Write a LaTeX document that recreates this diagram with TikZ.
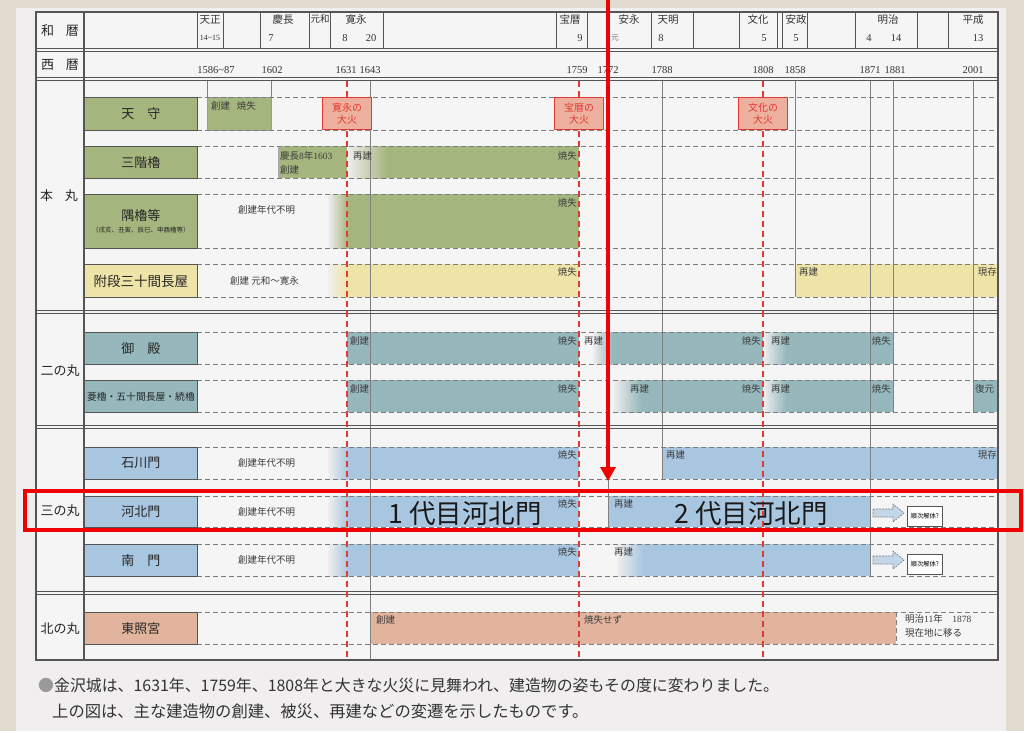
\documentclass[tikz,border=0pt]{standalone}
\usepackage{fontspec}
\setmainfont{Liberation Serif}
\newfontfamily\jp{Noto Sans CJK JP}
\usetikzlibrary{arrows.meta}
\definecolor{bgbeige}{RGB}{226,220,208}
\definecolor{paper}{RGB}{240,238,238}
\definecolor{gridgray}{RGB}{85,85,85}
\definecolor{dashgray}{RGB}{125,125,125}
\definecolor{cgreen}{RGB}{165,181,126}
\definecolor{cyellow}{RGB}{238,228,168}
\definecolor{cteal}{RGB}{150,184,188}
\definecolor{cblue}{RGB}{168,198,224}
\definecolor{csalmon}{RGB}{226,180,158}
\definecolor{firefill}{RGB}{238,176,158}
\definecolor{firered}{RGB}{226,58,50}
\definecolor{txtgray}{RGB}{60,60,60}
\definecolor{markred}{RGB}{240,0,0}
\newcommand\nm[1]{{\rmfamily #1}}
\tikzset{
  frameline/.style={draw=gridgray, line width=1.1pt},
  dbl/.style={draw=gridgray, line width=0.8pt},
  tick/.style={draw=gridgray!75, line width=0.7pt},
  rowdash/.style={draw=dashgray, line width=0.7pt, dash pattern=on 5pt off 3pt},
  firedash/.style={draw=firered, line width=1.3pt, dash pattern=on 6pt off 4pt},
  labelbox/.style={draw=gridgray, line width=0.8pt, inner sep=0pt, anchor=north west, minimum width=113pt, font=\jp\fontsize{13}{15}\selectfont, text=black!85, align=center},
  firebox/.style={draw=firered, fill=firefill, line width=1.1pt, inner sep=0pt, anchor=north west, minimum width=49pt, minimum height=32pt, font=\jp\fontsize{10}{12.5}\selectfont, text=firered, align=center},
  note/.style={font=\jp\fontsize{9.5}{11}\selectfont, text=txtgray, inner sep=0pt},
  era/.style={font=\jp\fontsize{10.5}{12}\selectfont, text=black!80, inner sep=0pt},
  yr/.style={font=\fontsize{10.5}{12}\selectfont, text=black!80, inner sep=0pt},
  sect/.style={font=\jp\fontsize{13}{15}\selectfont, text=black!85, inner sep=0pt},
  big/.style={font=\jp\fontsize{26.5}{30}\selectfont, text=black!90, inner sep=0pt},
  foot/.style={font=\jp\fontsize{16.3}{18}\selectfont, text=black!80, inner sep=0pt, anchor=west},
  markline/.style={draw=markred, line width=3.2pt},
  gobox/.style={draw=gridgray, fill=white, line width=0.6pt, inner sep=0pt, anchor=north west, minimum width=35pt, minimum height=20pt, font=\jp\fontsize{6.3}{7}\selectfont},
  goarrow/.style={draw=dashgray, fill=cblue!70, line width=0.6pt, dash pattern=on 2pt off 1pt},
}
\begin{document}
\begin{tikzpicture}[x=1pt,y=-1pt]
\useasboundingbox (0,0) rectangle (1024,731);
% background
\fill[bgbeige] (0,0) rectangle (1024,731);
\fill[paper] (16,8) rectangle (1006,731);
\fill[paper!60!white] (36,12) rectangle (998,660);

% ===== bars =====
% 天守
\draw[fill=cgreen, draw=gridgray!60, line width=0.6pt] (207,97) rectangle (271,130);
% 三階櫓
\fill[cgreen] (278,146) rectangle (347,178);
\draw[gridgray!50, line width=0.6pt] (278,146) -- (278,178);
\shade[left color=paper, right color=cgreen] (347,146) rectangle (387,178);
\fill[cgreen] (386.5,146) rectangle (579,178);
% 隅櫓等
\shade[left color=paper, right color=cgreen] (328,194) rectangle (348,248);
\fill[cgreen] (347.5,194) rectangle (579,248);
% 附段三十間長屋
\shade[left color=paper, right color=cyellow] (328,264) rectangle (348,297);
\fill[cyellow] (347.5,264) rectangle (579,297);
\fill[cyellow] (795,264) rectangle (998,297);
% 御殿
\fill[cteal] (347,332) rectangle (579,364);
\shade[left color=paper, right color=cteal] (593,332) rectangle (612,364);
\fill[cteal] (611.5,332) rectangle (763,364);
\shade[left color=paper, right color=cteal] (763,332) rectangle (786,364);
\fill[cteal] (785.5,332) rectangle (893,364);
% 菱櫓
\fill[cteal] (347,380) rectangle (579,412);
\shade[left color=paper, right color=cteal] (613,380) rectangle (641,412);
\fill[cteal] (640.5,380) rectangle (763,412);
\shade[left color=paper, right color=cteal] (763,380) rectangle (786,412);
\fill[cteal] (785.5,380) rectangle (893,412);
\fill[cteal] (973,380) rectangle (998,412);
% 石川門
\shade[left color=paper, right color=cblue] (328,447) rectangle (348,479);
\fill[cblue] (347.5,447) rectangle (579,479);
\fill[cblue] (662,447) rectangle (998,479);
% 河北門
\shade[left color=paper, right color=cblue] (328,496) rectangle (348,527);
\fill[cblue] (347.5,496) rectangle (579,527);
\fill[cblue] (609,496) rectangle (870,527);
% 南門
\shade[left color=paper, right color=cblue] (617,544) rectangle (643,576);
\shade[left color=paper, right color=cblue] (328,544) rectangle (348,576);
\fill[cblue] (347.5,544) rectangle (579,576);
\fill[cblue] (642.5,544) rectangle (870,576);
% 東照宮
\fill[csalmon] (371,612) rectangle (896,644);
\draw[rowdash] (896,612) -- (896,644);

% ===== row dashed lines =====
\foreach \yy in {97,130,146,178,194,248,264,297,332,364,380,412,447,479,496,527,544,576,612,644}
  \draw[rowdash] (197,\yy) -- (998,\yy);

% ===== vertical year lines =====
\draw[tick] (207,80.5) -- (207,97);
\draw[tick] (271,80.5) -- (271,97);
\draw[tick] (370,80.5) -- (370,660);
\draw[tick] (608,80.5) -- (608,527);
\draw[tick] (662,80.5) -- (662,479);
\draw[tick] (795,80.5) -- (795,297);
\draw[tick] (870,80.5) -- (870,576);
\draw[tick] (893,80.5) -- (893,412);
\draw[tick] (973,80.5) -- (973,412);

% ===== frame =====
\draw[frameline] (36,12) rectangle (998,660);
\draw[frameline] (84,12) -- (84,660);
\foreach \yy in {48.5,51.3,77.5,80.3,310.8,313.6,425.8,428.6,591.8,594.6}
  \draw[dbl] (36,\yy) -- (998,\yy);

% fire lines
\draw[firedash] (347,81) -- (347,660);
\draw[firedash] (579,81) -- (579,660);
\draw[firedash] (763,81) -- (763,660);

% era cell lines
\foreach \xx in {197,223,260,309,330,383,556,587,608,651,693,739,777,782,807,855,917,948}
  \draw[dbl] (\xx,12) -- (\xx,48.5);

% header labels
\node[sect] (h1) at (60,31) {和\hspace{0.9em}暦};
\node[sect] (h2) at (60,65) {西\hspace{0.9em}暦};

% era names
\node[era] (e1) at (210,20) {天正};
\node[yr, font=\fontsize{8}{9}\selectfont] (e1n) at (210,38) {14\textasciitilde15};
\node[era] (e2) at (283,20) {慶長};
\node[yr] (e2n) at (271,38) {7};
\node[era, font=\jp\fontsize{9.5}{11}\selectfont] (e3) at (320,19) {元和};
\node[era] (e4) at (356,20) {寛永};
\node[yr] (e4a) at (345,38) {8};
\node[yr] (e4b) at (371,38) {20};
\node[era] (e5) at (570,20) {宝暦};
\node[yr] (e5n) at (580,38) {9};
\node[era] (e6) at (629,20) {安永};
\node[era, font=\jp\fontsize{7.5}{9}\selectfont, text=black!55] (e6n) at (615,38) {元};
\node[era] (e7) at (668,20) {天明};
\node[yr] (e7n) at (661,38) {8};
\node[era] (e8) at (758,20) {文化};
\node[yr] (e8n) at (764,38) {5};
\node[era] (e9) at (796,20) {安政};
\node[yr] (e9n) at (796,38) {5};
\node[era] (e10) at (888,20) {明治};
\node[yr] (e10a) at (869,38) {4};
\node[yr] (e10b) at (896,38) {14};
\node[era] (e11) at (973,20) {平成};
\node[yr] (e11n) at (978,38) {13};

% western years
\node[yr] (y1) at (216,70) {1586\textasciitilde87};
\node[yr] (y2) at (272,70) {1602};
\node[yr] (y3) at (346,70) {1631};
\node[yr] (y4) at (370,70) {1643};
\node[yr] (y5) at (577,70) {1759};
\node[yr] (y6) at (608,70) {1772};
\node[yr] (y7) at (662,70) {1788};
\node[yr] (y8) at (763,70) {1808};
\node[yr] (y9) at (795,70) {1858};
\node[yr] (y10) at (870,70) {1871};
\node[yr] (y11) at (895,70) {1881};
\node[yr] (y12) at (973,70) {2001};

% section labels
\node[sect] (s1) at (59,196) {本\hspace{0.9em}丸};
\node[sect] (s2) at (60,371) {二の丸};
\node[sect] (s3) at (60,511) {三の丸};
\node[sect] (s4) at (60,629) {北の丸};

% building labels
\node[labelbox, fill=cgreen, minimum height=33pt] (b1) at (84,97) {天\hspace{1em}守};
\node[labelbox, fill=cgreen, minimum height=32pt] (b2) at (84,146) {三階櫓};
\node[labelbox, fill=cgreen, minimum height=54pt] (b3) at (84,194) {隅櫓等\\[-3pt]{\fontsize{6.5}{8}\selectfont（戌亥、丑寅、辰巳、申酉櫓等）}};
\node[labelbox, fill=cyellow, minimum height=33pt, font=\jp\fontsize{13.5}{15}\selectfont] (b4) at (84,264) {附段三十間長屋};
\node[labelbox, fill=cteal, minimum height=32pt] (b5) at (84,332) {御\hspace{1em}殿};
\node[labelbox, fill=cteal, minimum height=32pt, font=\jp\fontsize{9.8}{11}\selectfont] (b6) at (84,380) {菱櫓・五十間長屋・続櫓};
\node[labelbox, fill=cblue, minimum height=32pt] (b7) at (84,447) {石川門};
\node[labelbox, fill=cblue, minimum height=31pt] (b8) at (84,496) {河北門};
\node[labelbox, fill=cblue, minimum height=32pt] (b9) at (84,544) {南\hspace{1em}門};
\node[labelbox, fill=csalmon, minimum height=32pt] (b10) at (84,612) {東照宮};

% fire boxes
\node[firebox] (f1) at (322,97) {寛永の\\大火};
\node[firebox] (f2) at (554,97) {宝暦の\\大火};
\node[firebox] (f3) at (738,97) {文化の\\大火};

% annotations
\node[note, anchor=west] (n1) at (211,106) {創建\hspace{0.7em}焼失};
\node[note, anchor=west] (n2) at (280,156) {慶長\nm{8}年\nm{1603}};
\node[note, anchor=west] (n3) at (280,170) {創建};
\node[note, anchor=west] (n4) at (353,156) {再建};
\node[note, anchor=east] (n5) at (577,156) {焼失};
\node[note, anchor=east] (n6) at (577,203) {焼失};
\node[note, anchor=west] (n7) at (238,210) {創建年代不明};
\node[note, anchor=west] (n8) at (230,281) {創建 元和〜寛永};
\node[note, anchor=east] (n9) at (577,272) {焼失};
\node[note, anchor=west] (n10) at (799,272) {再建};
\node[note, anchor=east] (n11) at (997,272) {現存};
\node[note, anchor=west] (n12) at (350,341) {創建};
\node[note, anchor=east] (n13) at (577,341) {焼失};
\node[note, anchor=west] (n14) at (584,341) {再建};
\node[note, anchor=east] (n15) at (761,341) {焼失};
\node[note, anchor=west] (n16) at (771,341) {再建};
\node[note, anchor=east] (n17) at (891,341) {焼失};
\node[note, anchor=west] (n18) at (350,389) {創建};
\node[note, anchor=east] (n19) at (577,389) {焼失};
\node[note, anchor=west] (n20) at (630,389) {再建};
\node[note, anchor=east] (n21) at (761,389) {焼失};
\node[note, anchor=west] (n22) at (771,389) {再建};
\node[note, anchor=east] (n23) at (891,389) {焼失};
\node[note, anchor=west] (n24) at (975,389) {復元};
\node[note, anchor=west] (n25) at (238,463) {創建年代不明};
\node[note, anchor=east] (n26) at (577,455) {焼失};
\node[note, anchor=west] (n27) at (666,455) {再建};
\node[note, anchor=east] (n28) at (997,455) {現存};
\node[note, anchor=west] (n29) at (238,512) {創建年代不明};
\node[note, anchor=east] (n30) at (577,504) {焼失};
\node[note, anchor=west] (n31) at (614,504) {再建};
\node[note, anchor=west] (n32) at (238,560) {創建年代不明};
\node[note, anchor=east] (n33) at (577,552) {焼失};
\node[note, anchor=west] (n34) at (614,552) {再建};
\node[note, anchor=west] (n35) at (376,620) {創建};
\node[note, anchor=west] (n36) at (584,620) {焼失せず};
\node[note, anchor=west] (n37) at (905,619) {明治\nm{11}年\hspace{1em}\nm{1878}};
\node[note, anchor=west] (n38) at (905,633) {現在地に移る};

% dismantle arrows and boxes
\draw[goarrow] (873,509) -- (893,509) -- (893,504) -- (904,513) -- (893,522) -- (893,517) -- (873,517) -- cycle;
\node[gobox] (g1) at (907,506) {順次解体?};
\draw[goarrow] (873,556) -- (893,556) -- (893,551) -- (904,560) -- (893,569) -- (893,564) -- (873,564) -- cycle;
\node[gobox] (g2) at (907,554) {順次解体?};

% footer
\node[foot, font=\jp\fontsize{15.9}{18}\selectfont] (ft1) at (38,685) {{\color{black!40}●}金沢城は、1631年、1759年、1808年と大きな火災に見舞われ、建造物の姿もその度に変わりました。};
\node[foot] (ft2) at (52,711) {上の図は、主な建造物の創建、被災、再建などの変遷を示したものです。};

% ===== red overlay =====
\coordinate (mtop) at (608,0);
\coordinate (mtip) at (608,481);
\draw[markline, -{Triangle[length=14pt,width=15pt]}] (mtop) -- (mtip);
\draw[markline] (25,491) rectangle (1021,530);
\node[big] (k1) at (465,514) {1 代目河北門};
\node[big] (k2) at (751,514) {2 代目河北門};
\end{tikzpicture}
\end{document}
